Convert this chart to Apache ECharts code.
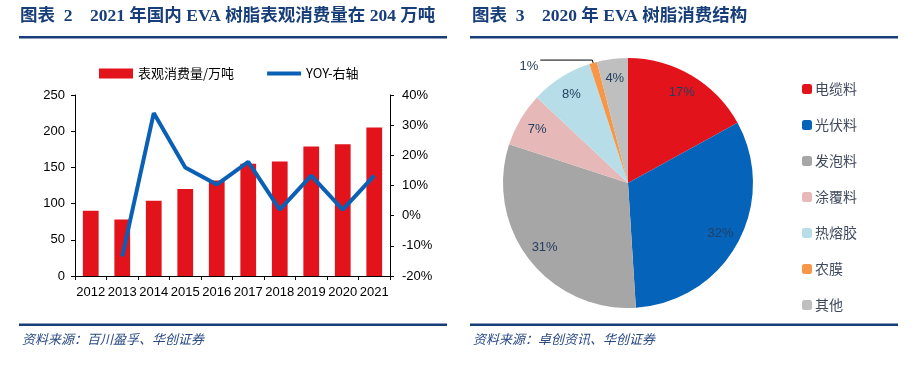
<!DOCTYPE html>
<html><head><meta charset="utf-8">
<script src="https://cdn.jsdelivr.net/npm/echarts@6/dist/echarts.min.js"></script>
<style>html,body{margin:0;padding:0;background:#fff}#c{width:923px;height:366px}</style>
</head><body><div id="c"></div>
<script>
var years = ['2012','2013','2014','2015','2016','2017','2018','2019','2020','2021'];
var consumption = [90, 78, 104, 120, 132, 155, 158, 179, 182, 205];
var yoy = [null, -13.5, 34, 16, 10.3, 17.8, 2, 13.3, 2, 13.3];
var pieNames = ['电缆料','光伏料','发泡料','涂覆料','热熔胶','农膜','其他'];
var pieValues = [17, 32, 31, 7, 8, 1, 4];
var pieColors = ['#E3131C','#0563BA','#A6A6A6','#E6B9B8','#B7DEE8','#F79646','#BFBFBF'];

var navy = '#173E78';
var titleFont = '"Liberation Serif","Noto Sans CJK SC",serif';
var chart = echarts.init(document.getElementById('c'), null, {renderer:'canvas'});

var pieData = pieNames.map(function(n,i){
  var d = {name:n, value:pieValues[i], itemStyle:{color:pieColors[i]}};
  if (n === '农膜') {
    d.label = {show:true, position:'outside', color:'#243F60', fontSize:13, distanceToLabelLine:2};
    d.labelLine = {show:true, length:3, length2:52, lineStyle:{color:'#000', width:1}};
  } else {
    d.label = {show:false};
  }
  return d;
});
var overlayData = pieNames.map(function(n,i){
  return {name:n, value:pieValues[i], label:{show: n !== '农膜'}};
});

chart.setOption({
  animation:false,
  textStyle:{fontFamily:'Arial,"Liberation Sans","Noto Sans CJK SC",sans-serif'},
  graphic:[
    {type:'text', left:20, top:8, style:{text:'图表  2    2021 年国内 EVA 树脂表观消费量在 204 万吨', font:'bold 17.5px '+titleFont, fill:navy}},
    {type:'text', left:472, top:8, style:{text:'图表  3    2020 年 EVA 树脂消费结构', font:'bold 17.5px '+titleFont, fill:navy}},
    {type:'rect', shape:{x:19,y:36,width:428,height:2.5}, style:{fill:navy}},
    {type:'rect', shape:{x:470,y:36,width:428,height:2.5}, style:{fill:navy}},
    {type:'rect', shape:{x:19,y:323.5,width:428,height:2.5}, style:{fill:navy}},
    {type:'rect', shape:{x:470,y:323.5,width:428,height:2.5}, style:{fill:navy}},
    {type:'text', left:22, top:333, style:{text:'资料来源：百川盈孚、华创证券', font:'italic 13px "Noto Sans CJK SC",sans-serif', fill:'#2A4A85'}},
    {type:'text', left:473, top:333, style:{text:'资料来源：卓创资讯、华创证券', font:'italic 13px "Noto Sans CJK SC",sans-serif', fill:'#2A4A85'}}
  ],
  legend:[
    {left:94, top:62, itemWidth:34, itemHeight:10, itemGap:33,
     data:[{name:'表观消费量/万吨', icon:'rect'}, {name:'YOY-右轴', icon:'path://M0,0H34V4H0Z'}],
     textStyle:{fontSize:13, color:'#000', fontFamily:'"Noto Sans CJK SC",Arial,sans-serif'}},
    {orient:'vertical', left:797, top:77, itemWidth:10, itemHeight:10, itemGap:22, icon:'roundRect',
     data:pieNames, textStyle:{fontSize:14, color:'#3F4A5E', fontFamily:'"Noto Sans CJK SC",sans-serif', padding:[0,0,0,-2]}}
  ],
  grid:{left:75, top:95, width:315, height:181, containLabel:false},
  xAxis:{type:'category', data:years,
    axisLine:{lineStyle:{color:'#000'}},
    axisTick:{show:true, alignWithLabel:false, length:4, lineStyle:{color:'#000'}},
    axisLabel:{color:'#000', fontSize:13, margin:10, interval:0}},
  yAxis:[
    {type:'value', min:0, max:250, interval:50, splitLine:{show:false},
     axisLine:{show:true, lineStyle:{color:'#000'}},
     axisTick:{show:true, length:4, lineStyle:{color:'#000'}},
     axisLabel:{color:'#000', fontSize:13, margin:10}},
    {type:'value', min:-20, max:40, interval:10, position:'right', splitLine:{show:false},
     axisLine:{show:true, lineStyle:{color:'#000'}},
     axisTick:{show:true, length:4, lineStyle:{color:'#000'}},
     axisLabel:{color:'#000', fontSize:13, margin:12, formatter:'{value}%'}}
  ],
  series:[
    {name:'表观消费量/万吨', type:'bar', data:consumption, barWidth:'50%', itemStyle:{color:'#E3131C'}},
    {name:'YOY-右轴', type:'line', yAxisIndex:1, data:yoy, symbol:'none', lineStyle:{color:'#0A60B5', width:4}, itemStyle:{color:'#0A60B5'}},
    {name:'消费结构', type:'pie', center:[628,183], radius:[0,125], startAngle:90, clockwise:true,
     data:pieData,
     label:{formatter:'{c}%', color:'#243F60', fontSize:13, fontFamily:'Arial,"Liberation Sans",sans-serif'},
     labelLayout:function(p){ if(p.dataIndex===5){ return {dy:6}; } },
     emphasis:{disabled:true},
     itemStyle:{borderWidth:0}},
    {name:'标签', type:'pie', center:[628,183], radius:[80,125], startAngle:90, clockwise:true,
     data:overlayData, silent:true, z:5,
     itemStyle:{color:'rgba(0,0,0,0)', borderWidth:0},
     label:{position:'inside', formatter:'{c}%', color:'#243F60', fontSize:13, fontFamily:'Arial,"Liberation Sans",sans-serif'},
     labelLine:{show:false},
     emphasis:{disabled:true}}
  ]
});
</script></body></html>
